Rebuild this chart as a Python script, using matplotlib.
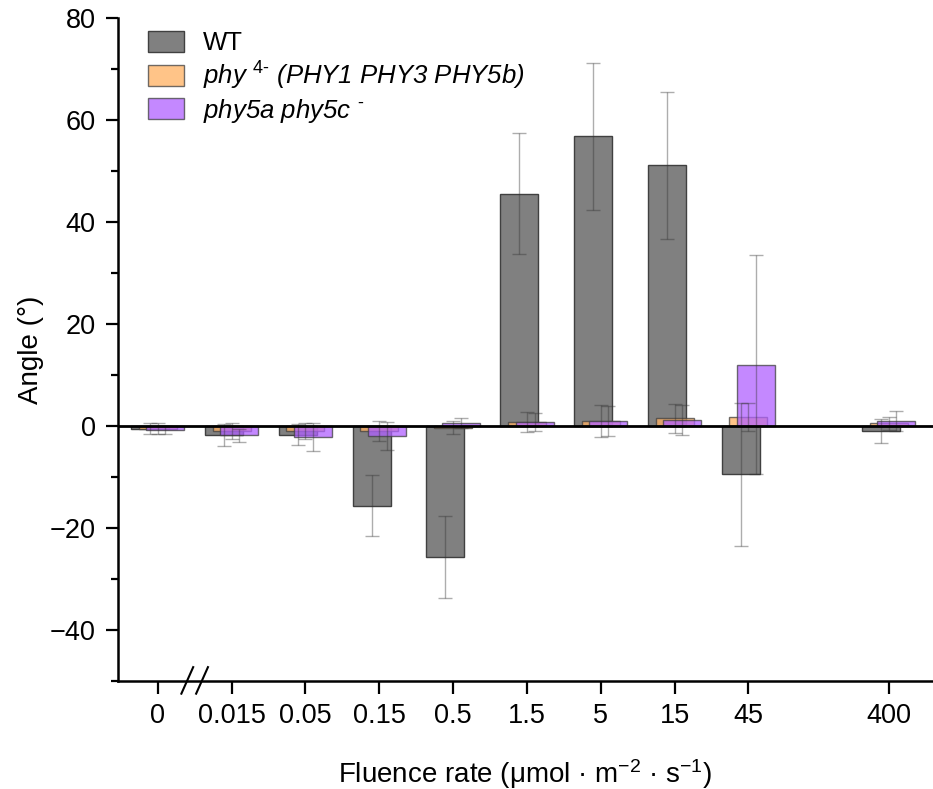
import numpy as np
from matplotlib import pyplot as plt
from matplotlib.ticker import MultipleLocator

plt.rcParams['font.family'] = ['Liberation Sans', 'DejaVu Sans']
plt.rcParams['mathtext.fontset'] = 'custom'
plt.rcParams['mathtext.rm'] = 'Liberation Sans'
plt.rcParams['mathtext.it'] = 'Liberation Sans:italic'

fluence = ["0", "0.015", "0.05", "0.15", "0.5", "1.5", "5", "15", "45", "400"]

wt_mean = [-0.5, -1.8, -1.7, -15.6, -25.7, 45.6, 56.8, 51.1, -9.5, -1.0]
wt_err = [1.0, 2.2, 2.0, 6.0, 8.0, 11.9, 14.5, 14.5, 14.0, 2.3]

phy4_mean = [-0.5, -1.0, -1.0, -1.0, -0.3, 0.8, 1.0, 1.5, 1.8, 0.5]
phy4_err = [1.0, 1.5, 1.5, 2.0, 1.2, 2.0, 3.2, 2.8, 2.7, 1.3]

phy5_mean = [-0.8, -1.8, -2.2, -2.0, 0.6, 0.8, 1.0, 1.2, 12.0, 1.0]
phy5_err = [0.8, 1.3, 2.7, 2.8, 1.0, 1.8, 3.0, 3.0, 21.5, 2.0]

labels = ["WT",
          r"phy $^{4\text{-}}$ (PHY1 PHY3 PHY5b)",
          r"phy5a phy5c $^{\text{-}}$"]
colors = ["#808080", "#FFB060", "#B060FF"]
alphas = [1.0, 0.75, 0.75]

x = np.r_[np.arange(len(fluence) - 1), len(fluence) - 0.1]
width = 0.515
shift = 0.104

fig = plt.figure(figsize=(9.33, 7.89), dpi=100)
ax = fig.add_axes([0.1265, 0.137, 0.8735, 0.840])

series = [(wt_mean, wt_err), (phy4_mean, phy4_err), (phy5_mean, phy5_err)]
for i, (m, e) in enumerate(series):
    pos = x + (i - 1) * shift
    ax.bar(pos, m, width=width, color=colors[i], alpha=alphas[i],
           edgecolor="#404040", linewidth=1.0, label=labels[i], zorder=2 + i)
    ax.errorbar(pos, m, yerr=e, fmt="none", ecolor=(0.2, 0.2, 0.2, 0.4),
                elinewidth=1.0, capsize=5, capthick=1.0, zorder=6)

ax.axhline(0, color="black", linewidth=2, zorder=7)

ax.set_xlim(-0.538, 10.5)
ax.set_ylim(-50, 80)
ax.set_xticks(x)
ax.set_xticklabels(fluence)
ax.yaxis.set_major_locator(MultipleLocator(20))
ax.yaxis.set_minor_locator(MultipleLocator(10))
ax.spines['top'].set_visible(False)
ax.spines['right'].set_visible(False)
for s in ['left', 'bottom']:
    ax.spines[s].set_linewidth(1.8)
ax.tick_params(axis='both', which='major', labelsize=19.5, length=9, width=1.6, direction='out', pad=7)
ax.tick_params(axis='y', which='minor', length=5, width=1.6, direction='out')

# axis break marks between 0 and 0.015
for xb in (0.40, 0.60):
    ax.plot([xb - 0.08, xb + 0.08], [-52.5, -47.3], color="black", linewidth=1.5,
            clip_on=False, zorder=8)

ax.set_ylabel("Angle (°)", fontsize=20, labelpad=4)
ax.set_xlabel(r"Fluence rate (μmol · m$^{-2}$ · s$^{-1}$)", fontsize=20, labelpad=20)

leg = ax.legend(loc="upper left", bbox_to_anchor=(0.008, 1.016), frameon=False, fontsize=18.5,
                handlelength=1.4, handleheight=0.9, handletextpad=0.75, labelspacing=0.18,
                borderaxespad=0.5)
for t in leg.get_texts()[1:]:
    t.set_style('italic')

plt.savefig("out.png")
plt.close()
